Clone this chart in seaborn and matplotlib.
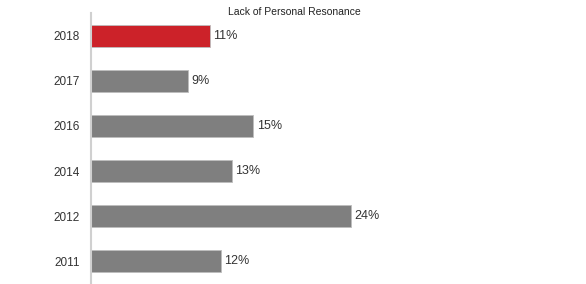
import matplotlib
matplotlib.use("Agg")
import matplotlib.pyplot as plt
import seaborn as sns
import pandas as pd

years = ["2018", "2017", "2016", "2014", "2012", "2011"]
values = [11, 9, 15, 13, 24, 12]
labels = ["11%", "9%", "15%", "13%", "24%", "12%"]
colors = ["#cc2229", "#7f7f7f", "#7f7f7f", "#7f7f7f", "#7f7f7f", "#7f7f7f"]
title = "Lack of Personal Resonance"

df = pd.DataFrame({"year": years, "value": values})

sns.set_style("white")
plt.rcParams['font.family'] = ['Liberation Sans', 'DejaVu Sans']

fig = plt.figure(figsize=(5.86, 2.84), dpi=100)
ax = fig.add_axes([91/586, 0.0, 487/586, 1 - 13/284])
sns.barplot(data=df, y="year", x="value", hue="year", palette=dict(zip(years, colors)),
            order=years, orient="h", width=0.49, legend=False, ax=ax, saturation=1,
            edgecolor="#bdbdbd", linewidth=0.6)
ax.set_xlim(0, 45)
ax.set_ylim(5.51, -0.51)
for i, (v, lab) in enumerate(zip(values, labels)):
    ax.text(v + 0.3, i, lab, va="center", ha="left", fontsize=9, color="#333333")
ax.set_xlabel("")
ax.set_ylabel("")
ax.set_xticks([])
ax.tick_params(axis="y", length=0, pad=8, labelsize=8.5, labelcolor="#333333")
for s in ["top", "right", "bottom"]:
    ax.spines[s].set_visible(False)
ax.spines["left"].set_color("#d0d0d0")
ax.spines["left"].set_linewidth(1.5)
fig.text(294/586, 1 - 12/284, title, ha="center", va="center", fontsize=7.5, color="#222222")
fig.savefig("out.png", dpi=100)
